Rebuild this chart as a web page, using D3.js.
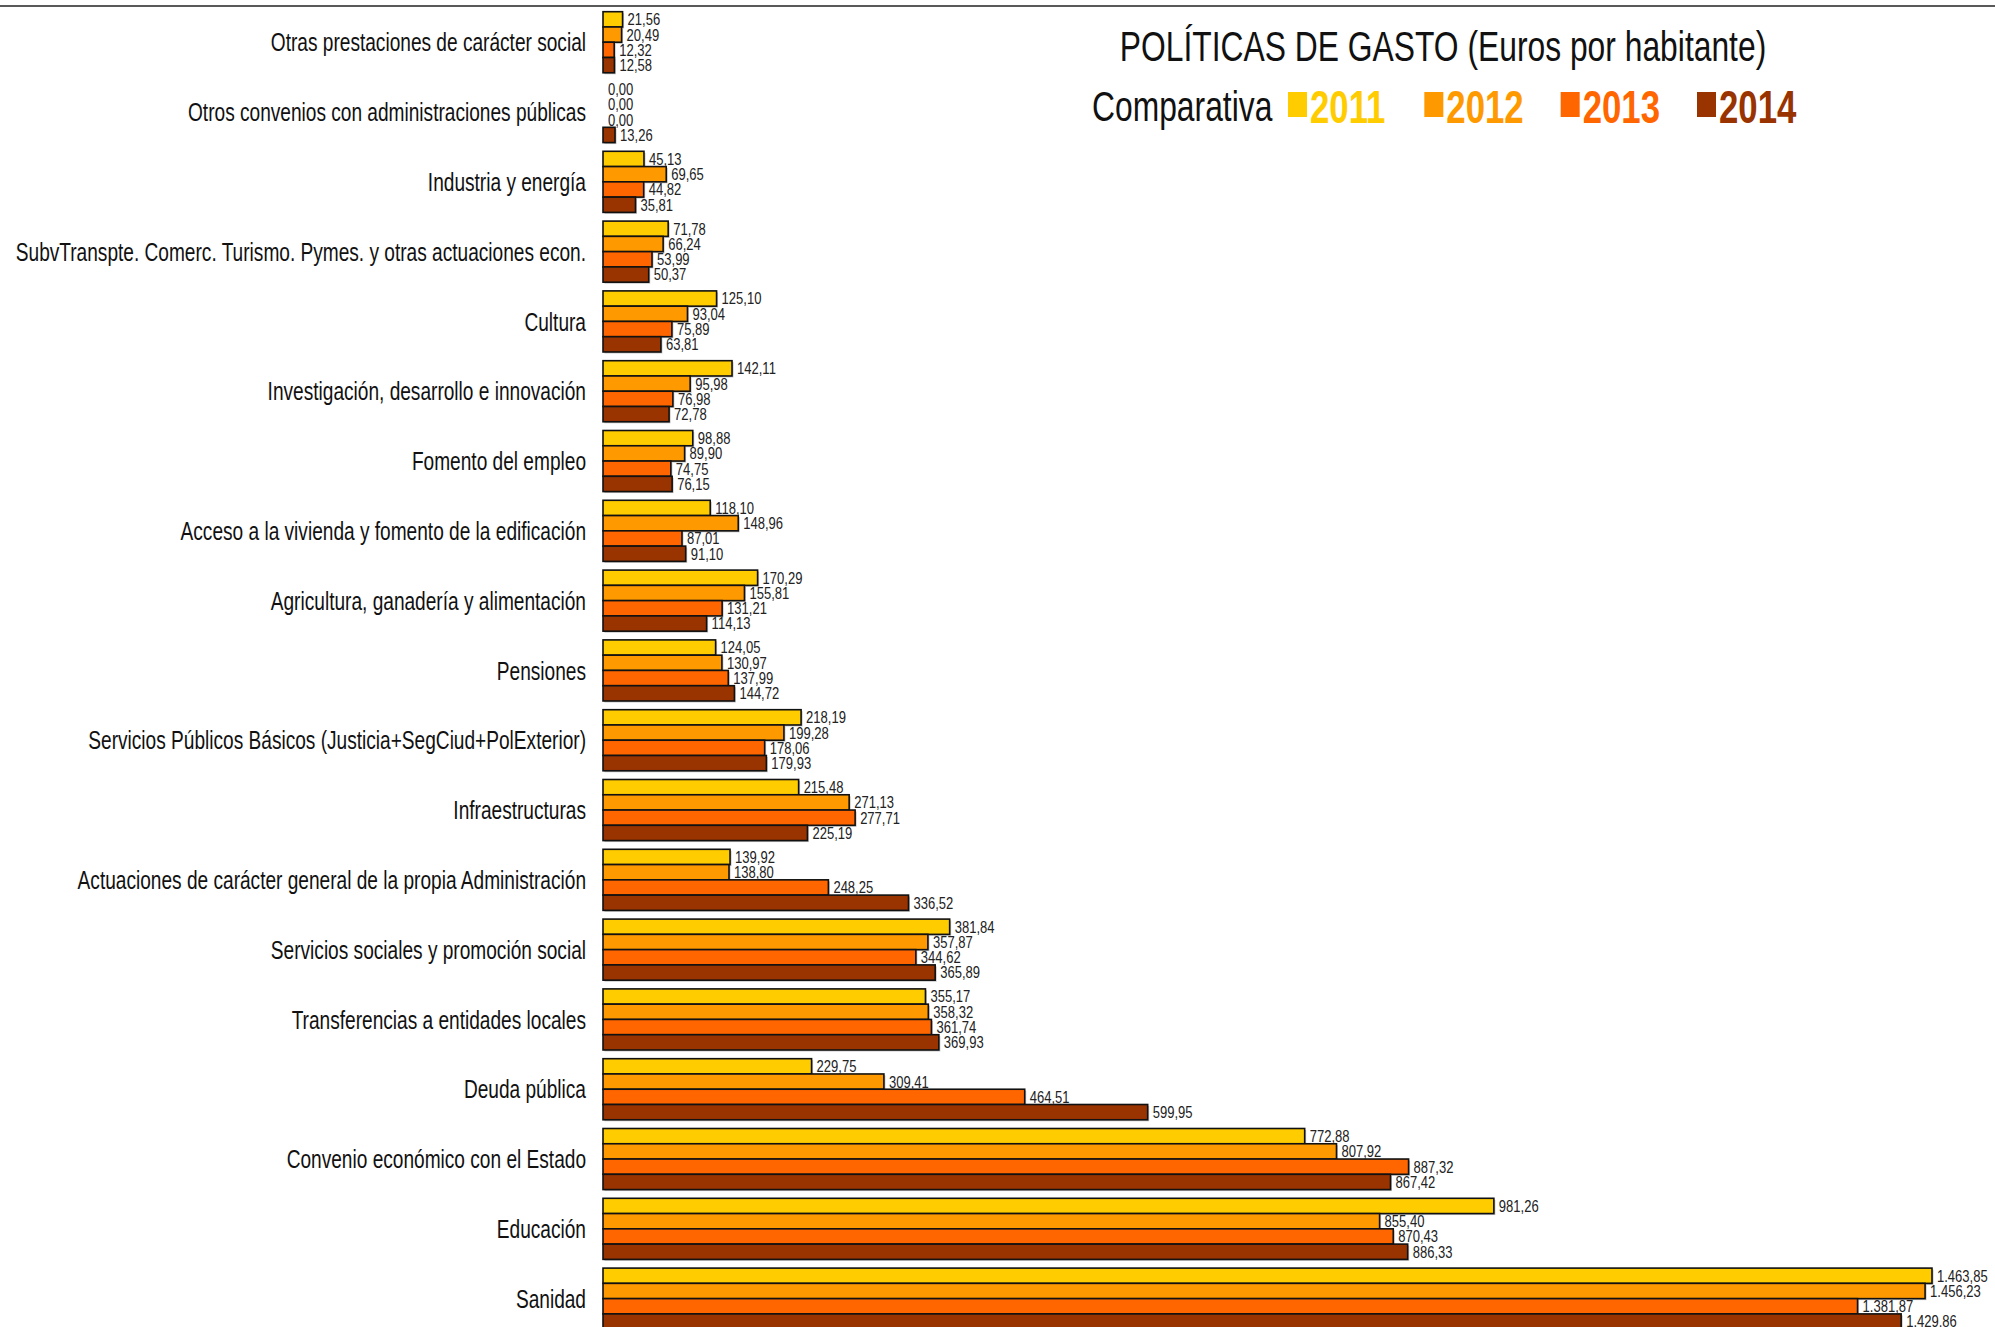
<!DOCTYPE html>
<html>
<head>
<meta charset="utf-8">
<script src="https://cdn.jsdelivr.net/npm/d3@7"></script>
<style>
  body { margin: 0; background: #fff; }
  svg text { font-family: "Liberation Sans", Arial, sans-serif; }
</style>
</head>
<body>
<div id="chart"></div>
<script>
// data (euros per inhabitant)
const categories = [
  "Otras prestaciones de carácter social",
  "Otros convenios con administraciones públicas",
  "Industria y energía",
  "SubvTranspte. Comerc. Turismo. Pymes. y otras actuaciones econ.",
  "Cultura",
  "Investigación, desarrollo e innovación",
  "Fomento del empleo",
  "Acceso a la vivienda y fomento de la edificación",
  "Agricultura, ganadería y alimentación",
  "Pensiones",
  "Servicios Públicos Básicos (Justicia+SegCiud+PolExterior)",
  "Infraestructuras",
  "Actuaciones de carácter general de la propia Administración",
  "Servicios sociales y promoción social",
  "Transferencias a entidades locales",
  "Deuda pública",
  "Convenio económico con el Estado",
  "Educación",
  "Sanidad"
];
const years = ["2011", "2012", "2013", "2014"];
const v2011 = [21.56, 0.00, 45.13, 71.78, 125.10, 142.11, 98.88, 118.10, 170.29, 124.05, 218.19, 215.48, 139.92, 381.84, 355.17, 229.75, 772.88, 981.26, 1463.85];
const v2012 = [20.49, 0.00, 69.65, 66.24, 93.04, 95.98, 89.90, 148.96, 155.81, 130.97, 199.28, 271.13, 138.80, 357.87, 358.32, 309.41, 807.92, 855.40, 1456.23];
const v2013 = [12.32, 0.00, 44.82, 53.99, 75.89, 76.98, 74.75, 87.01, 131.21, 137.99, 178.06, 277.71, 248.25, 344.62, 361.74, 464.51, 887.32, 870.43, 1381.87];
const v2014 = [12.58, 13.26, 35.81, 50.37, 63.81, 72.78, 76.15, 91.10, 114.13, 144.72, 179.93, 225.19, 336.52, 365.89, 369.93, 599.95, 867.42, 886.33, 1429.86];
const colors = ["#FFCC00", "#FF9900", "#FF6600", "#993300"];

const W = 1995, H = 1327;
const barLeft = 603, barRight = 1932;
// no narrow font installed, so squeeze the regular one sideways
const narrow = 0.74;

const series = [v2011, v2012, v2013, v2014];
const rows = categories.map((c, i) => ({
  cat: c,
  vals: years.map((yr, k) => ({ year: yr, value: series[k][i] }))
}));

const fmt = d3.formatLocale({ decimal: ",", thousands: ".", grouping: [3], currency: ["", "€"] }).format(",.2f");

const place = (px, py, s = narrow) => "translate(" + px + "," + py + ") scale(" + s + ",1)";

const svg = d3.select("#chart").append("svg")
  .attr("width", W)
  .attr("height", H);

// top rule
svg.append("line")
  .attr("x1", 0).attr("x2", W)
  .attr("y1", 6).attr("y2", 6)
  .attr("stroke", "#222")
  .attr("stroke-width", 1.5);

const x = d3.scaleLinear()
  .domain([0, d3.max(series.flat())])
  .range([barLeft, barRight]);

const step = 69.8;
const y = d3.scaleBand()
  .domain(categories)
  .range([11.7 - 0.0625 * step, 11.7 - 0.0625 * step + categories.length * step])
  .paddingInner(0.125)
  .paddingOuter(0.0625);

const yInner = d3.scaleBand()
  .domain(years)
  .range([0, y.bandwidth()]);

const color = d3.scaleOrdinal().domain(years).range(colors);

// category labels
svg.append("g")
  .selectAll("text")
  .data(categories)
  .join("text")
  .attr("transform", d => place(barLeft - 17, y(d) + y.bandwidth() / 2, 0.735))
  .attr("dy", "0.35em")
  .attr("text-anchor", "end")
  .style("font-size", "26px")
  .style("fill", "#111")
  .text(d => d);

const groups = svg.append("g")
  .selectAll("g")
  .data(rows)
  .join("g")
  .attr("transform", d => "translate(0," + y(d.cat) + ")");

// soft shadow under bars
groups.selectAll("rect.shadow")
  .data(d => d.vals.filter(v => v.value > 0))
  .join("rect")
  .attr("class", "shadow")
  .attr("x", x(0) + 1.5)
  .attr("y", d => yInner(d.year) + 1.5)
  .attr("width", d => x(d.value) - x(0))
  .attr("height", yInner.bandwidth())
  .attr("fill", "#c4c4c4");

groups.selectAll("rect.bar")
  .data(d => d.vals.filter(v => v.value > 0))
  .join("rect")
  .attr("class", "bar")
  .attr("x", x(0))
  .attr("y", d => yInner(d.year))
  .attr("width", d => x(d.value) - x(0))
  .attr("height", yInner.bandwidth())
  .attr("fill", d => color(d.year))
  .attr("stroke", "#111")
  .attr("stroke-width", 1.6);

groups.selectAll("text.val")
  .data(d => d.vals)
  .join("text")
  .attr("class", "val")
  .attr("transform", d => place(x(d.value) + 5, yInner(d.year) + yInner.bandwidth() / 2, 0.79))
  .attr("dy", "0.36em")
  .style("font-size", "16.5px")
  .style("fill", "#222")
  .text(d => fmt(d.value));

// title
svg.append("text")
  .attr("transform", place(1443, 61))
  .attr("text-anchor", "middle")
  .style("font-size", "43px")
  .style("fill", "#111")
  .text("POLÍTICAS DE GASTO (Euros por habitante)");

// legend line
const legend = svg.append("g");
legend.append("text")
  .attr("transform", place(1092, 121))
  .style("font-size", "43px")
  .style("fill", "#111")
  .text("Comparativa");

const legendX = d3.scalePoint().domain(years).range([1288, 1697]);

const item = legend.selectAll("g.item")
  .data(years)
  .join("g")
  .attr("class", "item")
  .attr("transform", d => "translate(" + legendX(d) + ",0)");

item.append("rect")
  .attr("x", 0)
  .attr("y", 92)
  .attr("width", 19)
  .attr("height", 25)
  .attr("fill", d => color(d));

item.append("text")
  .attr("transform", place(22, 123))
  .style("font-size", "47px")
  .style("font-weight", "bold")
  .style("fill", d => color(d))
  .text(d => d);
</script>
</body>
</html>
